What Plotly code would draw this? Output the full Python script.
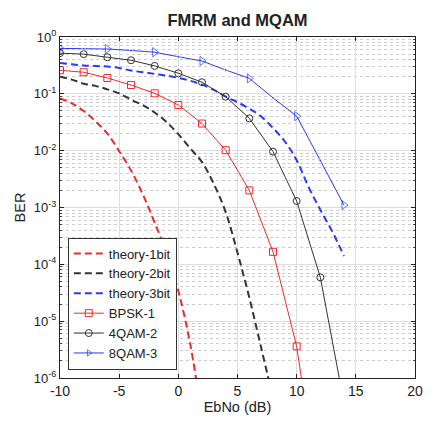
import plotly.graph_objects as go

# ---- data ----
ebno_theory_1 = [-10, -9, -8, -7, -6, -5, -4, -3, -2, -1, 0, 1, 2]
theory_1bit = [0.083, 0.068, 0.050, 0.033, 0.020, 0.0098, 0.0045, 0.0017,
               5.4e-4, 1.6e-4, 3.4e-5, 4.0e-6, 2.0e-7]

ebno_theory_2 = [-10, -9, -8, -7, -6, -5, -4, -3, -2, -1, 0, 1, 2, 3, 4, 5, 6, 7, 8]
theory_2bit = [0.20, 0.178, 0.151, 0.138, 0.120, 0.102, 0.079, 0.063, 0.047,
               0.032, 0.0195, 0.011, 0.0063, 0.0026, 8.3e-4, 1.6e-4, 2.6e-5,
               3.4e-6, 4.5e-7]

ebno_theory_3 = [-10, -9, -8, -7, -6, -5, -4, -3, -2, -1, 0, 1, 2, 3, 4, 5,
                 6, 7, 8, 9, 10, 11, 12, 13, 14]
theory_3bit = [0.347, 0.331, 0.316, 0.309, 0.302, 0.285, 0.257, 0.240, 0.224,
               0.209, 0.191, 0.170, 0.145, 0.117, 0.089, 0.071, 0.055, 0.040,
               0.025, 0.0145, 0.0068, 0.0023, 9.1e-4, 3.8e-4, 1.4e-4]

ebno_bpsk = [-10, -8, -6, -4, -2, 0, 2, 4, 6, 8, 10, 12]
ber_bpsk = [0.26, 0.24, 0.19, 0.143, 0.102, 0.0635, 0.030, 0.0102, 0.0020,
            1.66e-4, 3.6e-6, 6e-9]

ebno_4qam = [-10, -8, -6, -4, -2, 0, 2, 4, 6, 8, 10, 12, 14]
ber_4qam = [0.52, 0.50, 0.44, 0.39, 0.31, 0.23, 0.16, 0.089, 0.037, 0.0096,
            1.3e-3, 5.9e-5, 3.6e-7]

ebno_8qam = [-10, -8, -6, -4, -2, 0, 2, 4, 6, 8, 10, 12, 14]
ber_8qam = [0.63, 0.62, 0.615, 0.58, 0.54, 0.45, 0.378, 0.263, 0.187, 0.085,
            0.0405, 0.0067, 1.1e-3]

x_ticks = [-10, -5, 0, 5, 10, 15, 20]
x_ticktext = ["-10", "-5", "0", "5", "10", "15", "20"]
y_ticks = [1e-6, 1e-5, 1e-4, 1e-3, 1e-2, 1e-1, 1]
y_ticktext = ["10<sup>-6</sup>", "10<sup>-5</sup>", "10<sup>-4</sup>",
              "10<sup>-3</sup>", "10<sup>-2</sup>", "10<sup>-1</sup>",
              "10<sup>0</sup>"]

RED = "#ee2a2a"
BLACK = "#333333"
BLUE = "#2a3aee"
DASH = "7px,4px"

fig = go.Figure()
fig.add_trace(go.Scatter(x=ebno_theory_1, y=theory_1bit, mode="lines",
                         name="theory-1bit", line=dict(color=RED, width=2, dash=DASH, shape="spline")))
fig.add_trace(go.Scatter(x=ebno_theory_2, y=theory_2bit, mode="lines",
                         name="theory-2bit", line=dict(color=BLACK, width=2, dash=DASH, shape="spline")))
fig.add_trace(go.Scatter(x=ebno_theory_3, y=theory_3bit, mode="lines",
                         name="theory-3bit", line=dict(color=BLUE, width=2, dash=DASH, shape="spline")))
fig.add_trace(go.Scatter(x=ebno_bpsk, y=ber_bpsk, mode="lines+markers", name="BPSK-1",
                         line=dict(color=RED, width=1),
                         marker=dict(symbol="square-open", size=7, color=RED, line=dict(width=1))))
fig.add_trace(go.Scatter(x=ebno_4qam, y=ber_4qam, mode="lines+markers", name="4QAM-2",
                         line=dict(color=BLACK, width=1),
                         marker=dict(symbol="circle-open", size=7, color=BLACK, line=dict(width=1))))
sym8 = ["triangle-right-open" if i % 2 == 0 else "circle" for i in range(len(ebno_8qam))]
size8 = [8 if i % 2 == 0 else 3 for i in range(len(ebno_8qam))]
fig.add_trace(go.Scatter(x=ebno_8qam, y=ber_8qam, mode="lines+markers", name="8QAM-3",
                         line=dict(color=BLUE, width=1),
                         marker=dict(symbol=sym8, size=size8, color=BLUE, line=dict(width=1))))

FONT = "Liberation Sans, Arial, sans-serif"
fig.update_layout(
    width=432, height=430,
    margin=dict(l=60, r=9, t=37, b=52),
    paper_bgcolor="white", plot_bgcolor="white",
    font=dict(family=FONT, size=14, color="#222222"),
    title=dict(text="<b>FMRM and MQAM</b>", x=0.5, xref="paper", xanchor="center",
               y=1 - 20 / 430, yref="container", yanchor="middle",
               font=dict(size=16.5, color="#222222")),
    showlegend=True,
    legend=dict(x=0.022, y=0.412, xanchor="left", yanchor="top",
                bgcolor="white", bordercolor="#333333", borderwidth=1,
                itemwidth=30,
                font=dict(size=13, color="#222222"), tracegroupgap=0),
)
fig.update_xaxes(
    range=[-10, 20], tickvals=x_ticks, ticktext=x_ticktext,
    showline=True, linecolor="#222222", linewidth=1, mirror="ticks",
    ticks="inside", ticklen=4, tickcolor="#222222",
    showgrid=True, gridcolor="#dddddd", gridwidth=1, zeroline=False,
    title=dict(text="EbNo (dB)", standoff=4, font=dict(size=14.5)),
    tickfont=dict(size=14),
)
fig.update_yaxes(
    type="log", range=[-6, 0], tickvals=y_ticks, ticktext=y_ticktext,
    showline=True, linecolor="#222222", linewidth=1, mirror="ticks",
    ticks="inside", ticklen=4, tickcolor="#222222",
    showgrid=True, gridcolor="#dddddd", gridwidth=1, zeroline=False,
    minor=dict(dtick="D1", showgrid=True, gridcolor="#cccccc", griddash="dot",
               ticks="inside", ticklen=2, tickcolor="#444444"),
    title=dict(text="BER", standoff=4, font=dict(size=14.5)),
    tickfont=dict(size=13),
)

fig.write_html("out.html", config={"displayModeBar": False},
               post_script="document.body.style.margin='0';")
